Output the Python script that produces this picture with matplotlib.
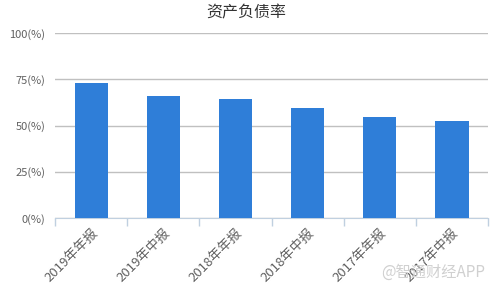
import matplotlib.pyplot as plt

plt.rcParams['font.family'] = ['Noto Sans CJK SC', 'DejaVu Sans']

categories = ['2019年年报', '2019年中报', '2018年年报', '2018年中报', '2017年年报', '2017年中报']
values = [73.0, 66.0, 64.4, 59.5, 54.6, 52.5]
yticks = [0, 25, 50, 75, 100]
ytick_labels = ['0(%)', '25(%)', '50(%)', '75(%)', '100(%)']

fig = plt.figure(figsize=(4.93, 2.93), dpi=100)
ax = fig.add_axes([0.1116, 0.2549, 0.8783, 0.6325])

x = list(range(len(categories)))
ax.bar(x, values, width=0.46, color='#2f7ed8', zorder=3)

ax.set_xlim(-0.5, len(categories) - 0.5)
ax.set_ylim(0, 100)
ax.set_yticks(yticks)
ax.set_yticklabels(ytick_labels, fontsize=8, color='#606060')
ax.tick_params(axis='y', length=0, pad=7)
ax.grid(axis='y', color='#c0c0c0', linewidth=1, zorder=0)

ax.set_xticks(x)
ax.set_xticklabels(categories, rotation=45, ha='right', rotation_mode='anchor',
                   fontsize=9.5, color='#606060')
ax.set_xticks([i - 0.5 for i in range(len(categories) + 1)], minor=True)
ax.tick_params(axis='x', which='major', length=0, pad=6)
ax.tick_params(axis='x', which='minor', length=6, color='#c0d0e0', width=1)

for s in ['top', 'right', 'left']:
    ax.spines[s].set_visible(False)
ax.spines['bottom'].set_color('#c0d0e0')

fig.text(0.5, 0.957, '资产负债率', ha='center', va='center', fontsize=11.5, color='#333333')
fig.text(0.985, 0.072, '@智通财经APP', ha='right', va='center', fontsize=11,
         color='#d0d0d0', zorder=10)

fig.savefig('out.png', dpi=100)
